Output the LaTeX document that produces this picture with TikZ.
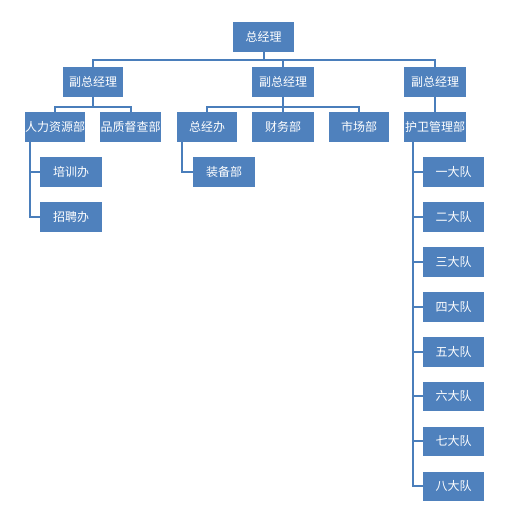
\documentclass[tikz,border=0pt]{standalone}
\usepackage{fontspec}
\newfontfamily\cjk{Noto Sans CJK SC}
\definecolor{boxblue}{HTML}{4F81BD}
\definecolor{lineblue}{HTML}{4A7EBB}
\tikzset{
  orgbox/.style={draw=none, fill=boxblue, text=white, anchor=north west,
    minimum width=61pt, minimum height=29.5pt, inner sep=0pt,
    font=\cjk\fontsize{12}{14}\selectfont},
  conn/.style={draw=lineblue, line width=2pt}
}
\begin{document}
\begin{tikzpicture}[x=1pt,y=-1pt]
\useasboundingbox (0,0) rectangle (526,513);
% level 1
\node[orgbox] (gm) at (233,22) {总经理};
% level 2
\node[orgbox, minimum width=60pt] (vp1) at (63,67) {副总经理};
\node[orgbox, minimum width=62pt] (vp2) at (252,67) {副总经理};
\node[orgbox, minimum width=62pt] (vp3) at (404,67) {副总经理};
% level 3
\node[orgbox, minimum width=60pt] (hr) at (25,112) {人力资源部};
\node[orgbox] (qc) at (100,112) {品质督查部};
\node[orgbox, minimum width=60pt] (gmo) at (177,112) {总经办};
\node[orgbox, minimum width=62pt] (fin) at (252,112) {财务部};
\node[orgbox, minimum width=60pt] (mkt) at (329,112) {市场部};
\node[orgbox, minimum width=62pt] (guard) at (404,112) {护卫管理部};
% level 4
\node[orgbox, minimum width=62pt] (train) at (40,157) {培训办};
\node[orgbox, minimum width=62pt] (recruit) at (40,202) {招聘办};
\node[orgbox, minimum width=62pt] (equip) at (193,157) {装备部};
\node[orgbox] (t1) at (423,157) {一大队};
\node[orgbox] (t2) at (423,202) {二大队};
\node[orgbox] (t3) at (423,247) {三大队};
\node[orgbox] (t4) at (423,292) {四大队};
\node[orgbox] (t5) at (423,337) {五大队};
\node[orgbox] (t6) at (423,381.5) {六大队};
\node[orgbox] (t7) at (423,426.5) {七大队};
\node[orgbox] (t8) at (423,471.5) {八大队};
% connectors level 1 -> 2
\coordinate (b1) at ([yshift=7pt]vp2.north);
\draw[conn] (vp1.north) |- (b1) -| (vp3.north);
\draw[conn] (vp2.north) -- (b1);
\draw[conn] (gm.south) -- (gm.south |- b1);
% vp1 -> hr, qc
\coordinate (b2) at ([yshift=5pt]hr.north);
\draw[conn] (hr.north) -- (b2) -| (qc.north);
\draw[conn] ([xshift=-0.5pt]vp1.south) -- ([xshift=-0.5pt]vp1.south |- b2);
% vp2 -> gmo, fin, mkt
\coordinate (b3) at ([yshift=5pt]gmo.north);
\draw[conn] (gmo.north) -- (b3) -| (mkt.north);
\draw[conn] (vp2.south) -- (fin.north);
% vp3 -> guard
\draw[conn] (vp3.south) -- (guard.north);
% hr -> train, recruit
\coordinate (h1) at ([xshift=5pt]hr.south west);
\draw[conn] (h1) |- (recruit.west);
\draw[conn] (h1 |- train.west) -- (train.west);
% gmo -> equip
\coordinate (g1) at ([xshift=5pt]gmo.south west);
\draw[conn] (g1) |- (equip.west);
% guard -> teams
\coordinate (p1) at ([xshift=9pt]guard.south west);
\draw[conn] (p1) |- (t8.west);
\foreach \t in {t1,t2,t3,t4,t5,t6,t7}
  \draw[conn] (p1 |- \t.west) -- (\t.west);
\end{tikzpicture}
\end{document}
